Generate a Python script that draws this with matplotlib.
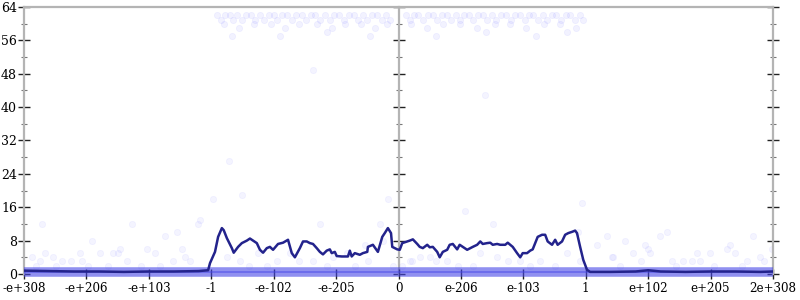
import matplotlib
matplotlib.use('Agg')
import matplotlib.pyplot as plt
from matplotlib.ticker import MultipleLocator

plt.rcParams['font.family'] = 'DejaVu Serif'

# x axis is in tick units: 0 .. 12, one unit per labelled tick
x_labels = ['-e+308', '-e+206', '-e+103', '-1', '-e-102', '-e-205', '0',
            'e-206', 'e-103', '1', 'e+102', 'e+205', '2e+308']

# running mean of the error (ULP)
line_x = [0.00, 0.40, 0.80, 1.20, 1.60, 2.00, 2.40, 2.80, 2.95, 2.98, 3.06, 3.11,
          3.17, 3.20, 3.25, 3.33, 3.36, 3.43, 3.49, 3.57, 3.62, 3.67, 3.73, 3.78,
          3.83, 3.89, 3.94, 3.99, 4.07, 4.15, 4.23, 4.29, 4.34, 4.42, 4.47, 4.53,
          4.58, 4.63, 4.69, 4.74, 4.79, 4.85, 4.90, 4.93, 4.98, 5.01, 5.09, 5.19,
          5.22, 5.25, 5.30, 5.38, 5.43, 5.50, 5.51, 5.59, 5.67, 5.74, 5.78, 5.83,
          5.88, 5.90, 5.98, 6.02, 6.06, 6.14, 6.18, 6.23, 6.30, 6.34, 6.39, 6.46,
          6.50, 6.55, 6.62, 6.66, 6.71, 6.78, 6.82, 6.87, 6.94, 6.98, 7.03, 7.10,
          7.15, 7.19, 7.26, 7.31, 7.35, 7.42, 7.47, 7.51, 7.58, 7.63, 7.71, 7.75,
          7.83, 7.90, 7.95, 7.99, 8.06, 8.11, 8.15, 8.19, 8.23, 8.30, 8.35, 8.39,
          8.46, 8.51, 8.55, 8.62, 8.67, 8.72, 8.78, 8.83, 8.86, 8.91, 8.96, 9.02,
          9.07, 9.40, 9.80, 10.00, 10.20, 10.60, 11.00, 11.40, 11.80, 12.00]
line_y = [0.8, 0.7, 0.6, 0.6, 0.5, 0.6, 0.6, 0.7, 0.9, 2.6, 5.3, 8.9,
          11.0, 10.5, 8.6, 6.2, 5.1, 6.5, 7.4, 8.0, 8.5, 8.0, 7.4, 5.8,
          5.1, 6.2, 6.5, 5.8, 7.2, 7.5, 8.2, 5.0, 4.0, 6.2, 7.8, 7.8,
          7.4, 7.2, 6.2, 5.3, 4.7, 5.6, 5.9, 5.0, 5.3, 4.3, 4.2, 4.2,
          5.6, 4.2, 5.0, 4.6, 5.0, 5.3, 6.5, 7.0, 5.3, 8.9, 9.8, 11.0,
          9.8, 6.5, 5.9, 5.8, 7.4, 7.8, 8.0, 8.3, 7.2, 6.5, 6.2, 7.0,
          6.4, 6.5, 5.3, 4.0, 5.3, 5.8, 7.0, 7.2, 5.9, 7.0, 6.5, 5.8,
          6.2, 6.5, 7.0, 7.8, 7.2, 7.4, 7.5, 7.0, 7.2, 7.0, 7.0, 7.5,
          6.5, 5.0, 4.0, 5.0, 5.0, 5.6, 5.9, 7.4, 8.9, 9.4, 9.4, 7.8,
          7.0, 8.2, 7.0, 7.8, 9.4, 9.8, 10.1, 10.4, 9.8, 6.5, 3.4, 1.0,
          0.5, 0.5, 0.6, 0.9, 0.6, 0.5, 0.6, 0.6, 0.5, 0.6]

# scattered single samples above the 0/1 band
pts_x = [0.13, 0.26, 0.29, 0.34, 0.46, 0.61, 0.90, 0.93, 1.09, 1.22, 1.43, 1.51,
         1.54, 1.73, 1.97, 2.10, 2.26, 2.39, 2.45, 2.53, 2.58, 2.79, 2.82, 3.03,
         3.25, 3.46, 3.49, 3.75, 4.05, 4.26, 4.63, 4.74, 4.95, 5.17, 5.46, 5.51,
         5.70, 5.75, 5.83, 5.91, 6.18, 6.22, 6.34, 6.50, 6.78, 7.07, 7.31, 7.51,
         7.58, 7.95, 8.27, 8.70, 8.88, 8.91, 8.94, 9.18, 9.34, 9.42, 9.44, 9.63,
         9.76, 9.95, 10.00, 10.03, 10.19, 10.30, 10.38, 10.56, 10.78, 10.83, 10.99,
         11.26, 11.31, 11.39, 11.58, 11.68, 11.79, 11.98, 4.63, 7.38, 3.28,
         0.20, 0.52, 0.75, 1.02, 1.35, 1.65, 1.88, 2.18, 2.66, 3.60, 3.90, 4.40,
         4.85, 5.30, 6.05, 6.60, 6.95, 7.20, 7.75, 8.10, 8.50, 9.55, 9.88, 10.45,
         10.70, 11.05, 11.50, 11.85]
pts_y = [4, 3, 12, 5, 4, 3, 5, 3, 8, 5, 5, 5,
         6, 12, 6, 5, 9, 3, 10, 6, 4, 12, 13, 18,
         4, 3, 19, 5, 3, 5, 3, 12, 4, 5, 7, 3,
         12, 8, 18, 2, 3, 3, 4, 4, 3, 15, 5, 12,
         4, 3, 3, 5, 10, 3, 17, 7, 9, 4, 4, 8,
         5, 7, 6, 5, 9, 10, 3, 3, 5, 3, 5,
         6, 7, 5, 3, 9, 4, 6, 49, 43, 27,
         2, 2, 3, 2, 2, 3, 2, 2, 3, 2, 2, 3,
         2, 2, 2, 3, 2, 2, 3, 2, 2, 2, 3, 2,
         3, 2, 2, 3]

# cluster of large errors near the top
top_x = [3.10, 3.16, 3.22, 3.30, 3.35, 3.42, 3.50, 3.55, 3.63, 3.70, 3.78, 3.85,
         3.92, 4.00, 4.05, 4.14, 4.22, 4.30, 4.36, 4.45, 4.52, 4.60, 4.66, 4.74,
         4.82, 4.90, 4.97, 5.05, 5.12, 5.20, 5.28, 5.35, 5.43, 5.50, 5.58, 5.66,
         5.74, 5.80, 5.86, 3.20, 3.45, 3.68, 3.95, 4.18, 4.40, 4.70, 4.93, 5.15,
         5.40, 5.62, 5.82, 3.33, 4.10, 4.85, 5.55,
         6.12, 6.18, 6.25, 6.32, 6.40, 6.47, 6.55, 6.61, 6.70, 6.77, 6.84, 6.92,
         6.99, 7.05, 7.13, 7.20, 7.28, 7.35, 7.42, 7.50, 7.57, 7.64, 7.72, 7.80,
         7.87, 7.94, 8.02, 8.09, 8.16, 8.24, 8.31, 8.38, 8.46, 8.53, 8.60, 8.68,
         8.75, 8.82, 8.90, 8.95, 6.20, 6.45, 6.72, 6.98, 7.25, 7.55, 7.78, 8.05,
         8.33, 8.58, 8.85, 6.60, 7.40, 8.20, 8.70]
top_y = [62, 61, 62, 62, 61, 62, 61, 62, 62, 61, 62, 61,
         62, 62, 61, 62, 62, 61, 62, 62, 61, 62, 62, 61,
         62, 61, 62, 62, 61, 62, 62, 61, 62, 61, 62, 62,
         61, 62, 61, 60, 59, 60, 60, 59, 60, 60, 59, 60,
         60, 59, 60, 57, 57, 58, 57,
         62, 61, 62, 62, 61, 62, 62, 61, 62, 62, 61, 62,
         61, 62, 62, 61, 62, 62, 61, 62, 61, 62, 62, 61,
         62, 62, 61, 62, 62, 61, 62, 61, 62, 62, 61, 62,
         62, 61, 62, 61, 60, 59, 60, 60, 59, 60, 60, 59,
         60, 60, 59, 57, 58, 57, 58]

# the dense rows of exact / 1-ulp results
band_levels = [0, 1]

gray = '#b4b4b4'
pt_color = '#5050ff'

fig = plt.figure(figsize=(8, 3), dpi=100)
ax = fig.add_axes([0.03, 0.0867, 0.93625, 0.89])

ax.hlines(band_levels, 0, 12, colors='#4646e6', linewidth=4.0, alpha=0.6,
          clip_on=False, zorder=3)
ax.scatter(pts_x, pts_y, s=20, c=pt_color, alpha=0.06, linewidths=0.6,
           edgecolors=pt_color, zorder=2)
ax.scatter(top_x, top_y, s=20, c=pt_color, alpha=0.07, linewidths=0.6,
           edgecolors=pt_color, zorder=2)
ax.plot(line_x, line_y, color='#23238c', linewidth=1.8, zorder=5)

ax.set_xlim(0, 12)
ax.set_ylim(0, 64)
ax.set_xticks(range(13))
ax.set_xticklabels(x_labels)
ax.set_yticks(range(0, 65, 8))
ax.yaxis.set_minor_locator(MultipleLocator(4))

for s in ['left', 'right', 'top', 'bottom']:
    ax.spines[s].set_color(gray)
    ax.spines[s].set_linewidth(1.6)
ax.spines['bottom'].set_visible(False)

ax.tick_params(axis='y', which='major', direction='inout', length=8, width=1,
               color='#222222', labelsize=9, pad=1, right=True)
ax.tick_params(axis='y', which='minor', direction='inout', length=4, width=0.8,
               color='#777777', right=True)
ax.tick_params(axis='x', which='major', direction='inout', length=7, width=1,
               color='#222222', labelsize=8.6, pad=2)

mid = ax.secondary_yaxis(0.5)
mid.set_yticks(range(0, 65, 8))
mid.yaxis.set_minor_locator(MultipleLocator(4))
mid.tick_params(which='major', direction='inout', length=8, width=1,
                color='#222222', labelleft=False, labelright=False)
mid.tick_params(which='minor', direction='inout', length=4, width=0.8,
                color='#777777')
for s in mid.spines.values():
    s.set_color(gray)
    s.set_linewidth(1.6)

fig.savefig('out.png', dpi=100)
